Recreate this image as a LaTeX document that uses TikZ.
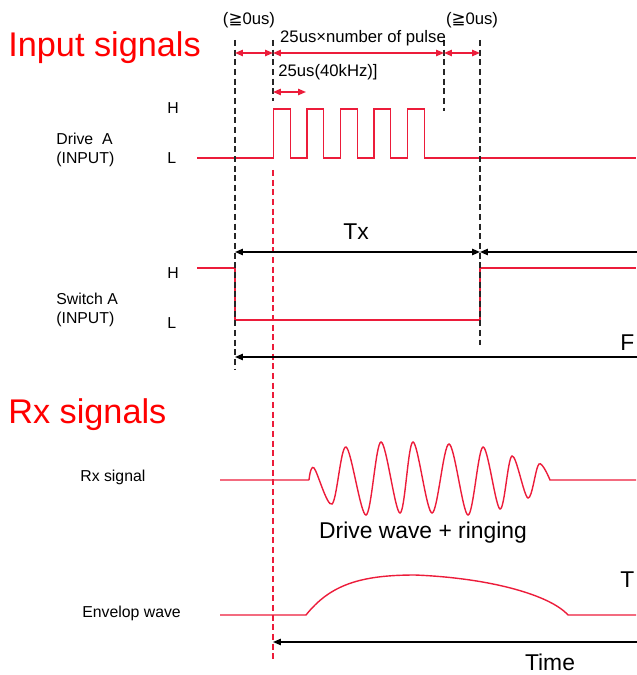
\documentclass[tikz,border=0pt]{standalone}
\usepackage{fontspec}
\setmainfont{Liberation Sans}
\newfontfamily\symfont{DejaVu Sans}
\usetikzlibrary{arrows.meta}
\definecolor{sigred}{RGB}{236,28,58}

\begin{document}
\begin{tikzpicture}[
    x=0.02cm, y=-0.02cm,
    sig/.style={draw=sigred, line width=0.8pt},
    guide/.style={draw=black!85, line width=0.7pt, dash pattern=on 3.5pt off 2pt},
    redguide/.style={draw=sigred, line width=0.7pt, dash pattern=on 3.5pt off 2pt},
    dimred/.style={draw=sigred, line width=0.8pt, {Triangle[length=4.5pt,width=3.6pt]}-{Triangle[length=4.5pt,width=3.6pt]}},
    dimblack/.style={draw=black, line width=0.8pt, {Triangle[length=4.5pt,width=3.6pt]}-{Triangle[length=4.5pt,width=3.6pt]}},
    tipblack/.style={draw=black, line width=0.8pt, {Triangle[length=4.5pt,width=3.6pt]}-},
    lab/.style={font=\fontsize{9}{10.5}\selectfont, anchor=west, inner sep=0pt, align=left},
    small/.style={font=\fontsize{9.5}{11}\selectfont, inner sep=0pt},
    big/.style={font=\fontsize{13}{15}\selectfont, inner sep=0pt},
    title/.style={font=\fontsize{19.5}{22}\selectfont, text=red, anchor=west, inner sep=0pt}
]
  \useasboundingbox (0,0) rectangle (636,675);

  % Titles
  \node (titleIn) [title] at (8,48) {Input signals};
  \node (titleRx) [title] at (8,415) {Rx signals};

  % Signal labels
  \node (lblDrive) [lab] at (56,150) {Drive\ \ A\\(INPUT)};
  \node (lblSwitch) [lab] at (56,310) {Switch A\\(INPUT)};
  \node (lblRx) [lab] at (80,477) {Rx signal};
  \node (lblEnv) [lab] at (82,613) {Envelop wave};
  \foreach \y/\t [count=\i] in {108/H, 158/L, 273/H, 323/L}
    \node (lvl\i) [lab] at (167,\y) {\t};

  % Signals
  \draw [sig] (197,158) -- (273.5,158)
    foreach \k in {1,...,5} { -- ++(0,-49) -- ++(16.7,0) -- ++(0,49) -- ++(16.8,0) }
    -- (636,158);
  \draw [sig] (197,268) -- (235,268) -- (235,320) -- (480,320) -- (480,268) -- (636,268);
  \draw [sig] (220,480) -- (309,480)
    plot [smooth, tension=0.55] coordinates {(309,480) (314,468) (332,504) (346,447) (366,515)
      (381,442) (400,513) (413,442) (432,513) (449,444) (468,515) (483,447) (500,509)
      (512,456) (528,498) (539,464) (550,480)}
    -- (636,480);
  \draw [sig] (220,615) -- (306,615) .. controls (330,585) and (360,575) .. (415,575)
    .. controls (490,578) and (550,595) .. (568,615) -- (636,615);

  % Guides
  \draw [guide] (235,40) -- (235,370);
  \draw [guide] (273,40) -- (273,101);
  \draw [guide] (444,40) -- (444,111);
  \draw [guide] (480,40) -- (480,345);
  \draw [redguide] (273,170) -- (273,660);

  % Dimension marks
  \coordinate (a0) at (235,53);
  \coordinate (a1) at (273,53);
  \coordinate (a2) at (444,53);
  \coordinate (a3) at (480,53);
  \coordinate (b0) at (273,92);
  \coordinate (b1) at (306,92);
  \coordinate (c0) at (235,252);
  \coordinate (c1) at (480,252);
  \coordinate (c2) at (640,252);
  \coordinate (d0) at (235,357);
  \coordinate (d1) at (640,357);
  \coordinate (e0) at (273,642);
  \coordinate (e1) at (640,642);

  \draw [dimred] (a0) -- (a1);
  \draw [dimred] (a1) -- (a2);
  \draw [dimred] (a2) -- (a3);
  \draw [dimred] (b0) -- (b1);
  \draw [dimblack] (c0) -- (c1);
  \draw [tipblack] (c1) -- (c2);
  \draw [tipblack] (d0) -- (d1);
  \draw [tipblack] (e0) -- (e1);

  % Dimension texts
  \node (gapL) [small] at (249,20) {({\symfont≧}0us)};
  \node (gapR) [small] at (472,20) {({\symfont≧}0us)};
  \node (burst) [small] at (363,38) {25us×number of pulse};
  \node (period) [small, anchor=west] at (278,72) {25us(40kHz)]};
  \node (tx) [big] at (356,232) {Tx};
  \node (cutF) [big, anchor=west] at (620,343) {F};
  \node (cutT) [big, anchor=west] at (620,580) {T};
  \node (ring) [big] at (423,533) {Drive wave + ringing};
  \node (time) [big] at (550,662) {Time};

\end{tikzpicture}
\end{document}
